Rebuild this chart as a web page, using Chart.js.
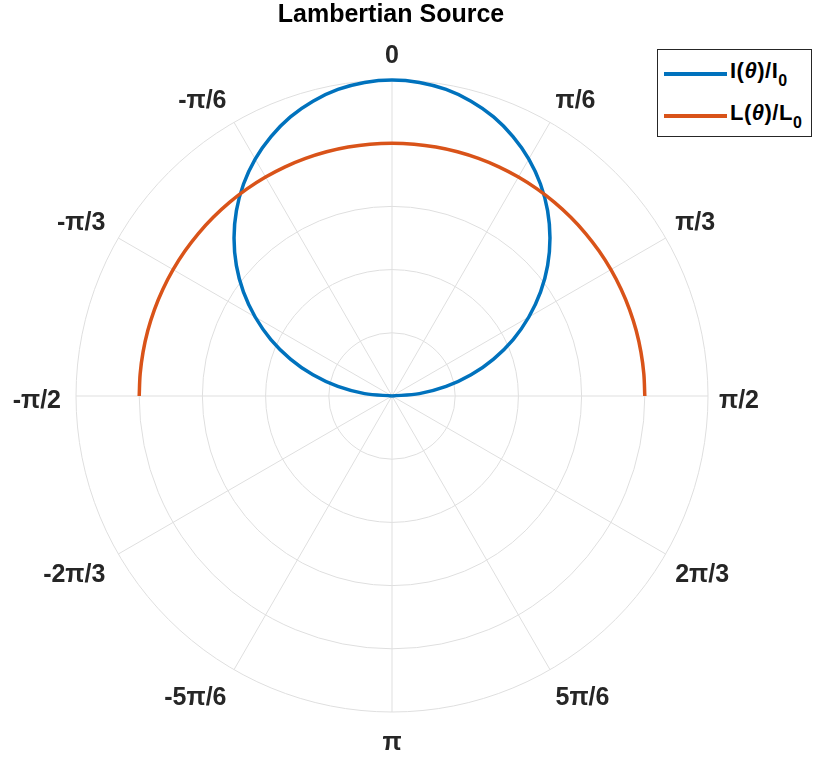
<!DOCTYPE html>
<html>
<head>
<meta charset="utf-8">
<script src="https://cdn.jsdelivr.net/npm/chart.js@4/dist/chart.umd.min.js"></script>
<style>
  html, body { margin: 0; padding: 0; background: #fff; }
  #wrap { position: relative; width: 814px; height: 757px; overflow: hidden; font-family: "Liberation Sans", Arial, Helvetica, sans-serif; }
  #title { position: absolute; left: 0; top: 1px; width: 782px; text-align: center; font-weight: bold; font-size: 25px; line-height: 25px; color: #000; }
  #legend { position: absolute; left: 657px; top: 49px; width: 155px; height: 88px; border: 1px solid #262626; background: #fff; box-sizing: border-box; }
  .lline { position: absolute; height: 4px; width: 63px; }
  .ltext { position: absolute; font-weight: bold; font-size: 22px; line-height: 22px; color: #000; white-space: nowrap; letter-spacing: 0.5px; }
  .ltext .sub { font-size: 16px; position: relative; top: 8px; }
</style>
</head>
<body>
<div id="wrap">
  <canvas id="c" width="814" height="757"></canvas>
  <div id="title">Lambertian Source</div>
  <div id="legend"></div>
</div>
<script>
// ---- data ----
const thetaDeg = [-90,-85,-80,-75,-70,-65,-60,-55,-50,-45,-40,-35,-30,-25,-20,-15,-10,-5,0,5,10,15,20,25,30,35,40,45,50,55,60,65,70,75,80,85,90];
const intensity = [0.000,0.087,0.174,0.259,0.342,0.423,0.500,0.574,0.643,0.707,0.766,0.819,0.866,0.906,0.940,0.966,0.985,0.996,1.000,0.996,0.985,0.966,0.940,0.906,0.866,0.819,0.766,0.707,0.643,0.574,0.500,0.423,0.342,0.259,0.174,0.087,0.000];
const radiance = [0.8,0.8,0.8,0.8,0.8,0.8,0.8,0.8,0.8,0.8,0.8,0.8,0.8,0.8,0.8,0.8,0.8,0.8,0.8,0.8,0.8,0.8,0.8,0.8,0.8,0.8,0.8,0.8,0.8,0.8,0.8,0.8,0.8,0.8,0.8,0.8,0.8];
const seriesNames = ['I(θ)/I0', 'L(θ)/L0'];
const seriesColors = ['#0072BD', '#D95319'];
const angleTickDeg = [0,30,60,90,120,150,180,210,240,270,300,330];
const angleTickLabels = ['0','π/6','π/3','π/2','2π/3','5π/6','π','-5π/6','-2π/3','-π/2','-π/3','-π/6'];
const radialTicks = [0.2,0.4,0.6,0.8,1.0];

// ---- build radar table: one category per 5 degrees, clockwise from top ----
const STEP = 5;
const angleCategories = [];
for (let d = 0; d < 360; d += STEP) angleCategories.push(d);
function toRadar(values) {
  const out = angleCategories.map(() => null);
  thetaDeg.forEach((d, k) => {
    const idx = ((d % 360) + 360) % 360 / STEP;
    out[idx] = values[k];
  });
  return out;
}

const labelPlugin = {
  id: 'polarLabels',
  afterDraw(chart) {
    const scale = chart.scales.r;
    const ctx = chart.ctx;
    const R = scale.drawingArea;
    ctx.save();
    ctx.font = 'bold 25px "Liberation Sans", Arial, sans-serif';
    ctx.fillStyle = '#262626';
    ctx.textBaseline = 'alphabetic';
    const capH = 18;
    angleTickDeg.forEach((deg, k) => {
      const i = angleCategories.indexOf(deg);
      const text = angleTickLabels[k];
      let hx;
      if (deg === 0 || deg === 180) { ctx.textAlign = 'center'; hx = scale.getPointPosition(i, R).x; }
      else if (deg < 180) { ctx.textAlign = 'left'; hx = scale.getPointPosition(i, R + 11).x; }
      else { ctx.textAlign = 'right'; hx = scale.getPointPosition(i, R + 15).x; }
      let y;
      if (deg === 90 || deg === 270) y = scale.yCenter + 12;
      else if (deg < 90 || deg > 270) y = scale.getPointPosition(i, R + 17).y;
      else y = scale.getPointPosition(i, R + 20).y + capH;
      ctx.fillText(text, hx, y);
    });
    ctx.restore();
  }
};

const chart = new Chart(document.getElementById('c'), {
  type: 'radar',
  data: {
    labels: angleCategories,
    datasets: [
      { label: seriesNames[0], data: toRadar(intensity), borderColor: seriesColors[0], borderWidth: 3.5, pointRadius: 0, fill: false, order: 1, tension: 0.33 },
      { label: seriesNames[1], data: toRadar(radiance), borderColor: seriesColors[1], borderWidth: 3.5, pointRadius: 0, fill: false, order: 0, tension: 0.33 }
    ]
  },
  options: {
    responsive: false,
    animation: false,
    devicePixelRatio: 1,
    layout: { padding: { left: 76, top: 80, right: 106, bottom: 45 } },
    plugins: { legend: { display: false }, tooltip: { enabled: false }, title: { display: false } },
    elements: { line: { borderCapStyle: 'butt', borderJoinStyle: 'round' } },
    spanGaps: false,
    scales: {
      r: {
        min: 0,
        max: 1,
        startAngle: 0,
        afterBuildTicks(scale) { scale.ticks = [{ value: 0 }].concat(radialTicks.map(v => ({ value: v }))); },
        ticks: { display: false, stepSize: 0.2 },
        pointLabels: { display: false },
        grid: { circular: true, color: '#dfdfdf', lineWidth: 1 },
        angleLines: {
          display: true,
          color: (ctx) => angleTickDeg.includes(angleCategories[ctx.index]) ? '#dfdfdf' : 'rgba(0,0,0,0)',
          lineWidth: (ctx) => angleTickDeg.includes(angleCategories[ctx.index]) ? 1 : 0
        }
      }
    }
  },
  plugins: [labelPlugin]
});

// ---- HTML legend ----
const legend = document.getElementById('legend');
const rows = [
  { top: 22, html: 'I(<i>θ</i>)/I<span class="sub">0</span>' },
  { top: 64, html: 'L(<i>θ</i>)/L<span class="sub">0</span>' }
];
rows.forEach((r, k) => {
  const ln = document.createElement('div');
  ln.className = 'lline';
  ln.style.left = '6px';
  ln.style.top = r.top + 'px';
  ln.style.background = seriesColors[k];
  legend.appendChild(ln);
  const tx = document.createElement('div');
  tx.className = 'ltext';
  tx.style.left = '72px';
  tx.style.top = (r.top - 12) + 'px';
  tx.innerHTML = r.html;
  legend.appendChild(tx);
});
</script>
</body>
</html>
